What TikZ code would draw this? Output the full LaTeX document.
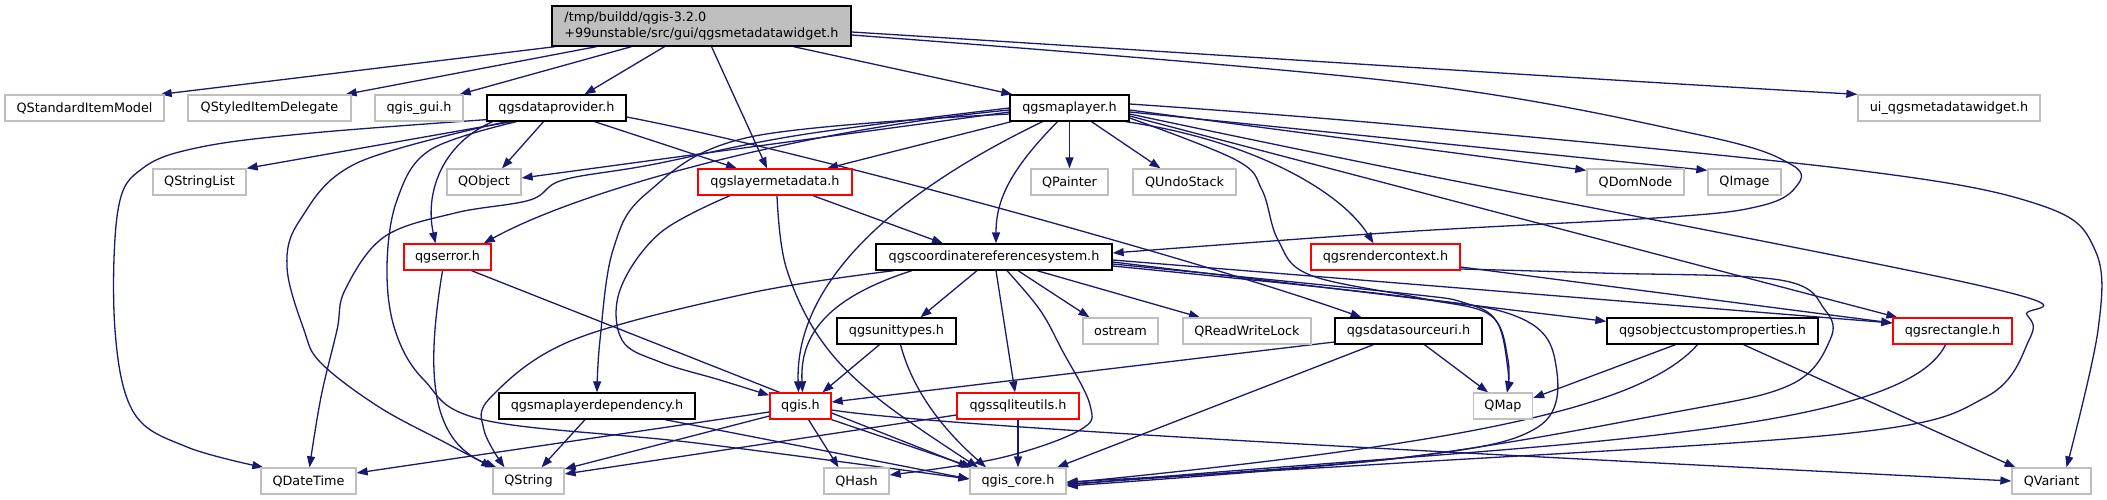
\documentclass[tikz,border=0pt]{standalone}
\usepackage{fontspec}
\setmainfont{DejaVu Sans}
\usepackage{tikz}
\usetikzlibrary{arrows.meta,backgrounds}
\definecolor{edgeblue}{HTML}{191970}
\definecolor{boxgray}{HTML}{BFBFBF}
\definecolor{boxred}{HTML}{FF0000}

\begin{document}
\begin{tikzpicture}[x=1pt,y=-1pt,>={Triangle[length=11pt,width=8pt]},
      hdr/.style={rectangle,inner sep=0pt,minimum height=26pt,line width=1.3pt,
                  fill=white,font=\fontsize{12.8}{16.5}\selectfont},
      sys/.style={hdr,draw=boxgray},
      loc/.style={hdr,draw=black},
      cut/.style={hdr,draw=boxred},
      dep/.style={edgeblue,line width=1.3pt,->}]
    \useasboundingbox (0,0) rectangle (2107,500);
    \node[loc,fill=boxgray,minimum width=299pt,minimum height=40pt,align=left]
      (main) at (701.5,26) {/tmp/buildd/qgis-3.2.0\\+99unstable/src/gui/qgsmetadatawidget.h};
    \foreach \nm/\x/\y/\w/\txt in {
        sim/84.5/108/159/QStandardItemModel,
        sid/269.5/108/163/QStyledItemDelegate,
        gui/419/108/88/qgis\_gui.h,
        ui/1949/108/182/ui\_qgsmetadatawidget.h,
        slist/199.5/182/93/QStringList,
        qobj/484/182/74/QObject,
        qpaint/1069.5/182/77/QPainter,
        qundo/1184.5/182/103/QUndoStack,
        qdom/1635.5/182/97/QDomNode,
        qimg/1744.5/182/73/QImage,
        ostr/1120.5/331/75/ostream,
        rwl/1247/331/128/QReadWriteLock,
        qmap/1503/406/59/QMap,
        qdt/308.5/481/95/QDateTime,
        qstr/528.5/481/71/QString,
        qhash/856.5/481/65/QHash,
        core/1018/481/96/qgis\_core.h,
        qvar/2051.5/481/79/QVariant}{
      \node[sys,minimum width=\w pt] (\nm) at (\x,\y) {\txt};
    }
    \foreach \nm/\x/\y/\w/\txt in {
        dp/556.5/108/139/qgsdataprovider.h,
        ml/1069.5/108/119/qgsmaplayer.h,
        crs/994/257/236/qgscoordinatereferencesystem.h,
        unit/896.5/331/119/qgsunittypes.h,
        dsu/1408.5/331/147/qgsdatasourceuri.h,
        ocp/1712.5/331/211/qgsobjectcustomproperties.h,
        mld/597/406/196/qgsmaplayerdependency.h}{
      \node[loc,minimum width=\w pt] (\nm) at (\x,\y) {\txt};
    }
    \foreach \nm/\x/\y/\w/\txt in {
        lmd/775/182/154/qgslayermetadata.h,
        err/447.5/257/87/qgserror.h,
        rc/1385.5/257/149/qgsrendercontext.h,
        rect/1952.5/331/119/qgsrectangle.h,
        qgis/800.5/406/61/qgis.h,
        sql/1018/406/122/qgssqliteutils.h}{
      \node[cut,minimum width=\w pt] (\nm) at (\x,\y) {\txt};
    }
    \begin{scope}[on background layer]
    \fill[white] (0,0) rectangle (2107,500);
    % qgsmetadatawidget.h
    \draw[dep] ([xshift=4pt]main.south west) -- ([xshift=-4pt]sim.north east);
    \draw[dep] ([xshift=-105pt]main.south) -- ([xshift=-6pt]sid.north east);
    \draw[dep] ([xshift=-70pt]main.south) -- ([xshift=-4pt]gui.north east);
    \draw[dep] ([xshift=-37pt]main.south) -- ([xshift=28pt]dp.north);
    \draw[dep] ([xshift=10pt]main.south) -- ([xshift=-8pt]lmd.north);
    \draw[dep] ([xshift=92pt]main.south) -- ([xshift=3pt]ml.north west);
    \draw[dep] ([yshift=-6pt]main.east) .. controls (1300,60) and (1600,80) .. (ui.north west);
    \draw[dep] plot[smooth,tension=.6] coordinates {([yshift=-9pt]main.east) (1400,82)
      (1700,135) (1792,165) (1795,188) (1760,206) (1670,217) (1400,232) ([yshift=4pt]crs.east)};
    % qgsdataprovider.h
    \draw[dep] plot[smooth,tension=.6] coordinates {([yshift=2pt]dp.south west) (312,133)
      (201,147) (143,168) (118,210) (115,330) (134,413) (187,447) ([xshift=3pt]qdt.north west)};
    \draw[dep] ([xshift=-45pt]dp.south) -- (slist.north east);
    \draw[dep] ([xshift=-13pt]dp.south) -- ([xshift=18pt]qobj.north);
    \draw[dep] ([xshift=38pt]dp.south) -- ([xshift=-38pt]lmd.north);
    \draw[dep] ([xshift=-64pt]dp.south) .. controls (440,145) and (425,195) .. ([xshift=-12pt]err.north);
    \draw[dep] plot[smooth,tension=.6] coordinates {([xshift=-50pt]dp.south) (357,163)
      (300,220) (287,267) (304,330) (321,363) (379,407) (446,443) (qstr.north west)};
    \draw[dep] plot[smooth,tension=.6] coordinates {([xshift=-40pt]dp.south) (430,150)
      (397,200) (387,267) (395,330) (424,380) (484,420) (696,443) ([yshift=2pt]core.west)};
    \draw[dep] ([yshift=-9pt]dp.east) .. controls (800,150) and (1200,260) .. ([xshift=-47pt]dsu.north);
    % qgsmaplayer.h
    \draw[dep] ([yshift=-4pt]ml.west) -- ([yshift=4pt]qobj.east);
    \draw[dep] ([xshift=2pt]ml.south west) -- ([xshift=52pt]lmd.north);
    \draw[dep] ([yshift=-2pt]ml.west) .. controls (800,130) and (580,190) .. ([xshift=-8pt]err.north east);
    \draw[dep] plot[smooth,tension=.6] coordinates {(ml.west) (800,135) (650,165) (563,180)
      (530,200) (455,213) (384,237) (345,290) (337,330) (321,397) ([xshift=1pt]qdt.north)};
    \draw[dep] plot[smooth,tension=.6] coordinates {([yshift=-6pt]ml.west) (750,137) (647,193)
      (613,250) (600,340) (mld.north)};
    \draw[dep] ([xshift=-27pt]ml.south) .. controls (880,200) and (795,290) .. ([xshift=-2pt]qgis.north);
    \draw[dep] ([xshift=-12pt]ml.south) .. controls (1010,170) and (996,200) .. ([xshift=2pt]crs.north);
    \draw[dep] (ml.south) -- (qpaint.north);
    \draw[dep] ([xshift=22pt]ml.south) -- ([xshift=-24pt]qundo.north);
    \draw[dep] ([yshift=-2pt]ml.east) -- ([yshift=-2pt]qdom.north west);
    \draw[dep] ([yshift=-4pt]ml.east) -- ([yshift=-2pt]qimg.north west);
    \draw[dep] plot[smooth,tension=.6] coordinates {([yshift=4pt]ml.east) (1400,125) (1855,170)
      (2040,205) (2095,250) (2098,330) ([xshift=15pt]qvar.north)};
    \draw[dep] ([xshift=-4pt]ml.south east) .. controls (1250,140) and (1340,190) .. ([xshift=-12pt]rc.north);
    \draw[dep] ([yshift=-8pt]ml.east) -- ([xshift=5pt]rect.north west);
    \draw[dep] plot[smooth,tension=.6] coordinates {([yshift=-10pt]ml.east) (1236,160)
      (1262,190) (1278,240) (1310,275) (1420,298) (1490,315) (1508,360) ([xshift=4pt]qmap.north)};
    \draw[dep] plot[smooth,tension=.6] coordinates {([yshift=-6pt]ml.east) (1400,170)
      (1986,287) (2027,315) (2029,340) (1986,397) (1851,433) (1400,463) ([yshift=-1pt]core.east)};
    % qgslayermetadata.h
    \draw[dep] ([xshift=38pt]lmd.south) -- ([xshift=-51pt]crs.north);
    \draw[dep] plot[smooth,tension=.6] coordinates {([xshift=-45pt]lmd.south) (660,233)
      (620,290) (622,340) (660,362) (720,380) ([yshift=-3pt]qgis.north west)};
    \draw[dep] plot[smooth,tension=.6] coordinates {([xshift=2pt]lmd.south) (786,267)
      (821,340) (880,400) ([xshift=-40pt]core.north)};
    % qgserror.h
    \draw[dep] ([xshift=-5pt]err.south) .. controls (428,360) and (425,440) .. ([xshift=4pt]qstr.north west);
    \draw[dep] ([xshift=24pt]err.south) -- (core.north west);
    % qgscoordinatereferencesystem.h
    \draw[dep] ([xshift=-17pt]crs.south) -- ([xshift=24pt]unit.north);
    \draw[dep] ([xshift=24pt]crs.south) -- ([xshift=-31pt]ostr.north);
    \draw[dep] ([xshift=43pt]crs.south) -- ([xshift=-47pt]rwl.north);
    \draw[dep] ([xshift=2pt]crs.south) -- ([xshift=-3pt]sql.north);
    \draw[dep] ([xshift=-82pt]crs.south) .. controls (820,300) and (800,340) .. ([xshift=2pt]qgis.north);
    \draw[dep] plot[smooth,tension=.6] coordinates {([xshift=13pt]crs.south) (1040,310)
      (1062,350) (1090,405) (1080,430) (1000,458) ([yshift=6pt]qhash.east)};
    \draw[dep] plot[smooth,tension=.6] coordinates {([xshift=-100pt]crs.south) (750,293)
      (573,340) (491,397) (484,430) ([xshift=-24pt]qstr.north)};
    \draw[dep] ([yshift=-5pt]crs.east) -- ([yshift=-4pt]ocp.north west);
    \draw[dep] plot[smooth,tension=.6] coordinates {([yshift=-7pt]crs.east) (1400,293)
      (1465,303) (1497,322) (1508,370) ([xshift=4pt]qmap.north)};
    \draw[dep] plot[smooth,tension=.6] coordinates {([yshift=-9pt]crs.east) (1400,296)
      (1518,317) (1555,360) (1538,427) (1400,458) ([yshift=-3pt]core.east)};
    \draw[dep] ([yshift=-3pt]crs.east) -- ([yshift=8pt]rect.west);
    % qgsrendercontext.h
    \draw[dep] ([yshift=-10pt]rc.east) -- ([yshift=8pt]rect.west);
    \draw[dep] plot[smooth,tension=.6] coordinates {([yshift=-12pt]rc.east) (1600,273)
      (1780,280) (1825,310) (1830,340) (1790,385) (1670,413) (1400,458) ([yshift=-5pt]core.east)};
    % qgsunittypes.h
    \draw[dep] ([xshift=-17pt]unit.south) -- ([xshift=22pt]qgis.north);
    \draw[dep] ([xshift=4pt]unit.south) .. controls (915,400) and (955,440) .. ([xshift=-32pt]core.north);
    % qgsdatasourceuri.h
    \draw[dep] ([yshift=-11pt]dsu.west) -- ([yshift=4pt]qgis.east);
    \draw[dep] ([xshift=16pt]dsu.south) -- ([xshift=-15pt]qmap.north);
    \draw[dep] ([xshift=-35pt]dsu.south) -- ([xshift=39pt]core.north);
    % qgsobjectcustomproperties.h
    \draw[dep] ([xshift=-37pt]ocp.south) -- ([yshift=8pt]qmap.east);
    \draw[dep] ([xshift=-15pt]ocp.south) .. controls (1640,410) and (1450,445) .. ([yshift=-2pt]core.east);
    \draw[dep] ([xshift=31pt]ocp.south) -- ([xshift=-36pt]qvar.north);
    % qgsrectangle.h
    \draw[dep] ([xshift=-7pt]rect.south) .. controls (1900,440) and (1500,445) .. ([yshift=-4pt]core.east);
    % qgsmaplayerdependency.h
    \draw[dep] ([xshift=-12pt]mld.south) -- ([xshift=13pt]qstr.north);
    \draw[dep] ([xshift=68pt]mld.south) -- ([yshift=2pt]core.west);
    % qgis.h
    \draw[dep] ([yshift=-6pt]qgis.west) -- ([yshift=8pt]qdt.east);
    \draw[dep] ([yshift=-10pt]qgis.west) -- ([yshift=12pt]qstr.east);
    \draw[dep] ([xshift=8pt]qgis.south) -- ([xshift=-18pt]qhash.north);
    \draw[dep] (qgis.south east) -- ([xshift=3pt]core.north west);
    \draw[dep] ([yshift=-4pt]qgis.east) .. controls (950,428) and (1500,455) .. (qvar.west);
    % qgssqliteutils.h
    \draw[dep] ([yshift=-9pt]sql.west) -- ([yshift=7pt]qstr.east);
    \draw[dep] (sql.south) -- (core.north);
    \end{scope}
  \end{tikzpicture}
\end{document}
